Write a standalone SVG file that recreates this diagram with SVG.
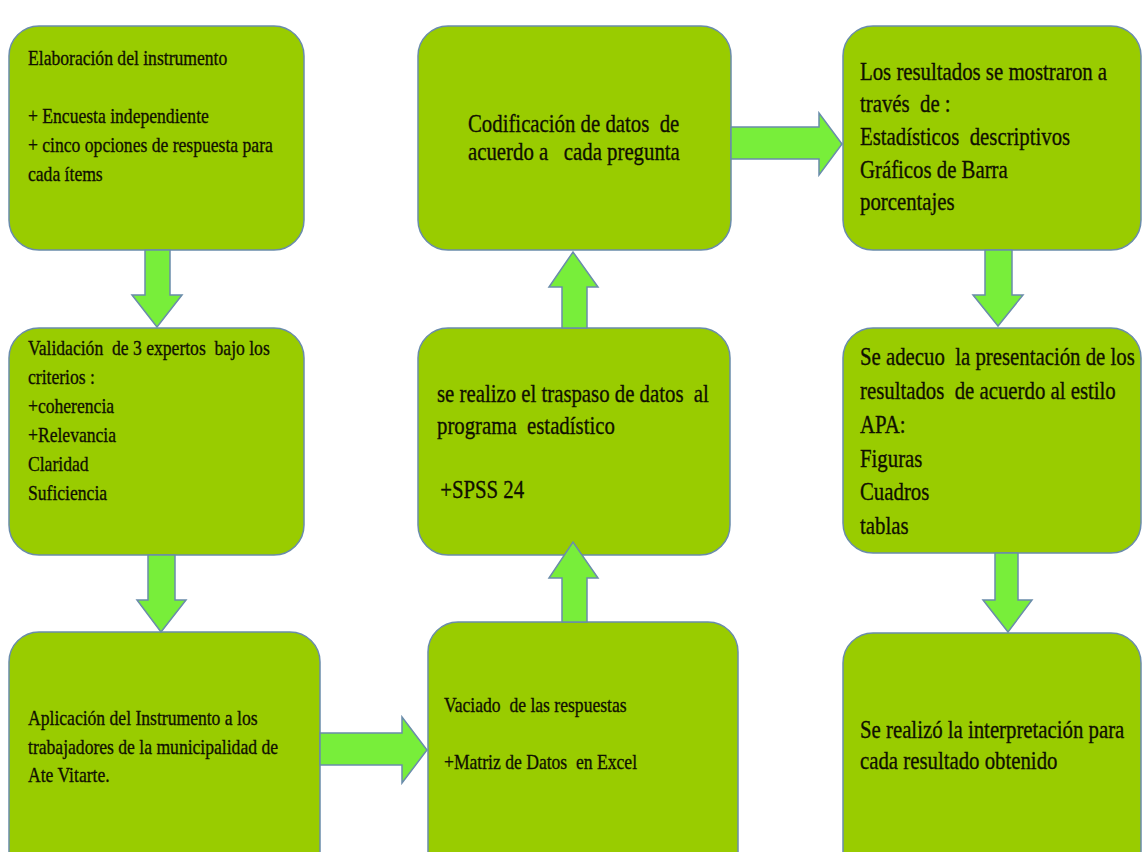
<svg xmlns="http://www.w3.org/2000/svg" width="1143" height="852" viewBox="0 0 1143 852">
<style>
.box{fill:#99cc00;stroke:#6a8cab;stroke-width:1.5}
.arr{fill:#78ee3a;stroke:#6a8cab;stroke-width:1.5;stroke-linejoin:miter}
.t{font-family:"Liberation Serif","Times New Roman",serif;fill:#101000;stroke:#101000;stroke-width:0.35}
.s{font-size:22px}
.l{font-size:26px}
</style>
<rect width="1143" height="852" fill="#ffffff"/>
<g id="n1">
<rect class="box" x="9" y="26" width="295" height="224" rx="30"/>
<text class="t s" transform="translate(28 0) scale(0.8 1)"><tspan x="0" y="65">Elaboración del instrumento</tspan><tspan x="0" y="123">+ Encuesta independiente</tspan><tspan x="0" y="152">+ cinco opciones de respuesta para</tspan><tspan x="0" y="181">cada ítems</tspan></text>
</g>
<g id="n2">
<rect class="box" x="9" y="328" width="295" height="227" rx="30"/>
<text class="t s" transform="translate(28 0) scale(0.8 1)"><tspan x="0" y="355">Validación &#160;de 3 expertos &#160;bajo los</tspan><tspan x="0" y="384">criterios :</tspan><tspan x="0" y="413">+coherencia</tspan><tspan x="0" y="442">+Relevancia</tspan><tspan x="0" y="471">Claridad</tspan><tspan x="0" y="500">Suficiencia</tspan></text>
</g>
<g id="n3">
<rect class="box" x="9" y="632" width="311" height="250" rx="30"/>
<text class="t s" transform="translate(28 0) scale(0.8 1)"><tspan x="0" y="725">Aplicación del Instrumento a los</tspan><tspan x="0" y="754">trabajadores de la municipalidad de</tspan><tspan x="0" y="782">Ate Vitarte.</tspan></text>
</g>
<g id="n4">
<rect class="box" x="428" y="622" width="310" height="260" rx="30"/>
<text class="t s" transform="translate(444 0) scale(0.8 1)"><tspan x="0" y="712">Vaciado &#160;de las respuestas</tspan><tspan x="0" y="769">+Matriz de Datos &#160;en Excel</tspan></text>
</g>
<g id="n5">
<rect class="box" x="418" y="328" width="312" height="227" rx="30"/>
<text class="t l" transform="translate(437 0) scale(0.8 1)"><tspan x="0" y="402">se realizo el traspaso de datos &#160;al</tspan><tspan x="0" y="434">programa &#160;estadístico</tspan><tspan x="4" y="498">+SPSS 24</tspan></text>
</g>
<g id="n6">
<rect class="box" x="418" y="26" width="313" height="224" rx="30"/>
<text class="t l" transform="translate(468 0) scale(0.8 1)"><tspan x="0" y="132">Codificación de datos &#160;de</tspan><tspan x="0" y="160">acuerdo a &#160; cada pregunta</tspan></text>
</g>
<g id="n7">
<rect class="box" x="843" y="26" width="298" height="224" rx="30"/>
<text class="t l" transform="translate(860 0) scale(0.8 1)"><tspan x="0" y="80">Los resultados se mostraron a</tspan><tspan x="0" y="112">través &#160;de :</tspan><tspan x="0" y="145">Estadísticos &#160;descriptivos</tspan><tspan x="0" y="178">Gráficos de Barra</tspan><tspan x="0" y="210">porcentajes</tspan></text>
</g>
<g id="n8">
<rect class="box" x="843" y="328" width="298" height="225" rx="30"/>
<text class="t l" transform="translate(860 0) scale(0.8 1)"><tspan x="0" y="365">Se adecuo &#160;la presentación de los</tspan><tspan x="0" y="399">resultados &#160;de acuerdo al estilo</tspan><tspan x="0" y="433">APA:</tspan><tspan x="0" y="467">Figuras</tspan><tspan x="0" y="500">Cuadros</tspan><tspan x="0" y="534">tablas</tspan></text>
</g>
<g id="n9">
<rect class="box" x="843" y="633" width="298" height="250" rx="30"/>
<text class="t l" transform="translate(860 0) scale(0.8 1)"><tspan x="0" y="738">Se realizó la interpretación para</tspan><tspan x="0" y="769">cada resultado obtenido</tspan></text>
</g>
<g id="connectors">
<polygon class="arr" points="145,250 170,250 170,295 182,295 157,327 132,295 145,295"/>
<polygon class="arr" points="148,555 175,555 175,600 186,600 161,632 137,600 148,600"/>
<polygon class="arr" points="320,733 402,733 402,717 427,750 402,783 402,765 320,765"/>
<polygon class="arr" points="562,622 562,578 549,578 573,542 598,578 587,578 587,622"/>
<polygon class="arr" points="562,328 562,287 549,287 573,252 598,287 587,287 587,328"/>
<polygon class="arr" points="731,127 819,127 819,113 842,144 819,175 819,159 731,159"/>
<polygon class="arr" points="985,250 1012,250 1012,295 1023,295 998,326 973,295 985,295"/>
<polygon class="arr" points="995,553 1018,553 1018,600 1032,600 1008,632 983,600 995,600"/>
</g>
</svg>
